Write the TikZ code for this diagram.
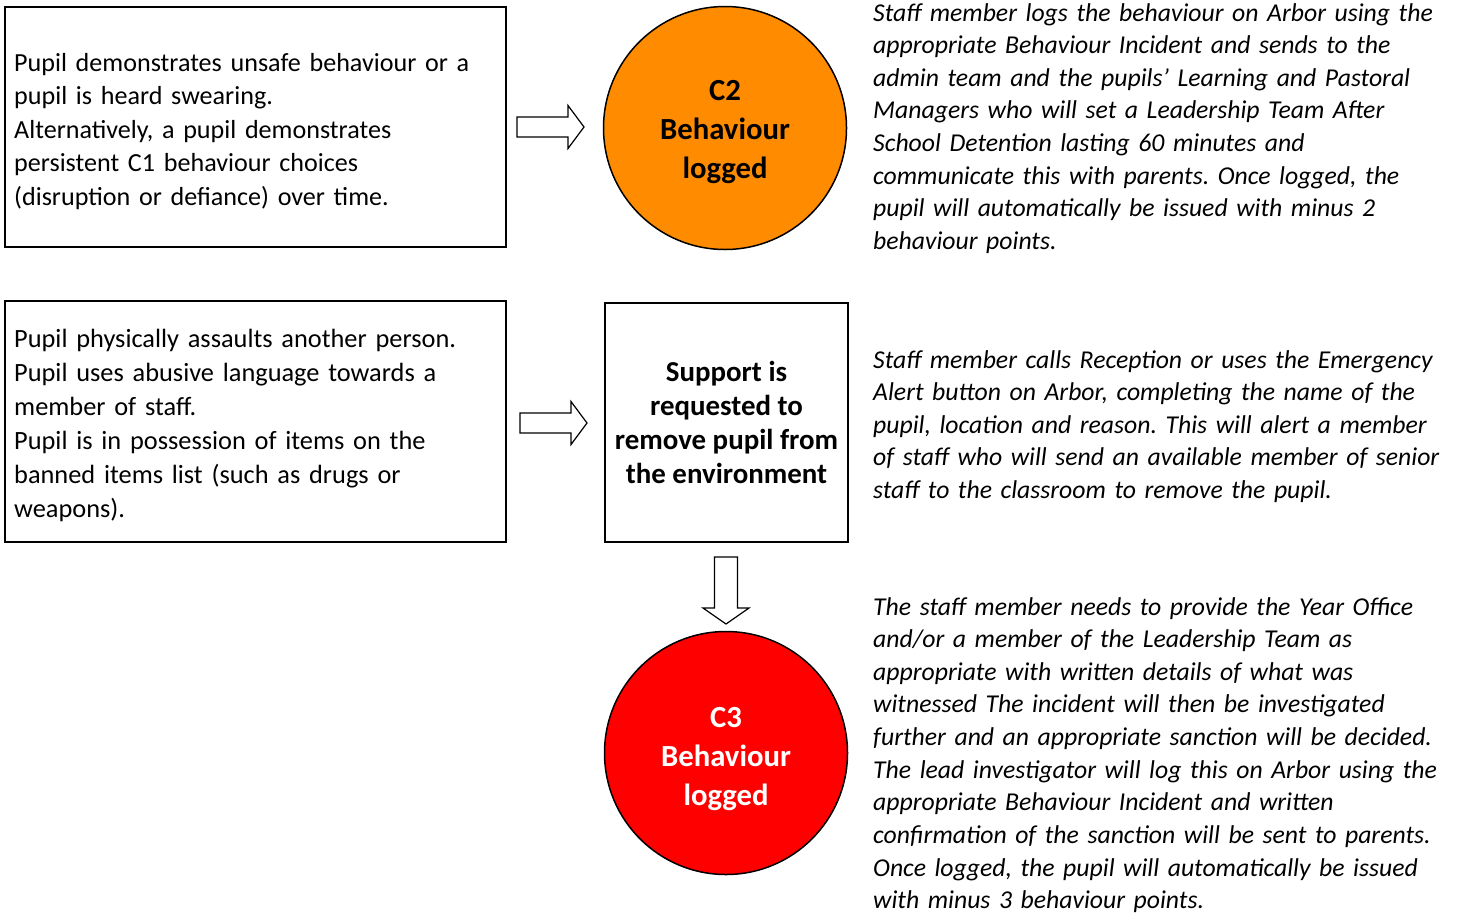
\documentclass[tikz,border=0pt]{standalone}
\usepackage{fontspec}
\setmainfont{Carlito}
\frenchspacing
\definecolor{ctwo}{RGB}{255,140,0}
\definecolor{cthree}{RGB}{255,0,0}
\begin{document}
\begin{tikzpicture}[x=1pt,y=-1pt,
  box/.style={draw, line width=2pt, rectangle, inner sep=0pt},
  lefttext/.style={align=left, text width=490pt, anchor=base west, inner sep=0pt},
  note/.style={font=\fontsize{25.7}{32.65}\selectfont\itshape, align=left, text width=590pt, anchor=base west, inner sep=0pt},
  disc/.style={draw, line width=1.5pt, circle, minimum size=243pt, inner sep=0pt},
  disclabel/.style={align=center, inner sep=0pt, font=\fontsize{30.7}{39}\selectfont\bfseries},
  rarrow/.pic={\draw[line width=1.2pt, fill=white] (0,-10) -- (51,-10) -- (51,-21.5) -- (67,0) -- (51,21.5) -- (51,10) -- (0,10) -- cycle;},
  darrow/.pic={\draw[line width=1.2pt, fill=white] (-11.5,0) -- (11.5,0) -- (11.5,51) -- (23,51) -- (0,67) -- (-23,51) -- (-11.5,51) -- cycle;}]
\useasboundingbox (0,0) rectangle (1458,913);
\fill[white] (0,0) rectangle (1458,913);

% left boxes
\node[box, minimum width=501pt, minimum height=240pt] (box1) at (255.5,127) {};
\node[box, minimum width=501pt, minimum height=241pt] (box2) at (255.5,421.5) {};
\node[lefttext, font=\fontsize{26.1}{33.6}\selectfont] (t1) at (14,71) {Pupil demonstrates unsafe behaviour or a\\
pupil is heard swearing.\\
Alternatively, a pupil demonstrates\\
persistent C1 behaviour choices\\
(disruption or defiance) over time.};
\node[lefttext, font=\fontsize{26.35}{34}\selectfont] (t2) at (14,347) {Pupil physically assaults another person.\\
Pupil uses abusive language towards a\\
member of staff.\\
Pupil is in possession of items on the\\
banned items list (such as drugs or\\
weapons).};

% middle column
\node[disc, fill=ctwo] (c2) at (725,128) {};
\node[disclabel] (c2t) at (725,132) {C2\\Behaviour\\logged};
\node[box, minimum width=243pt, minimum height=239pt, align=center,
  font=\fontsize{28.9}{34.3}\selectfont\bfseries] (box3) at (726.5,422.5)
  {Support is\\requested to\\remove pupil from\\the environment};
\node[disc, fill=cthree] (c3) at (726,753) {};
\node[disclabel, text=white] (c3t) at (726,759) {C3\\Behaviour\\logged};

% block arrows
\pic at (517,127) {rarrow};
\pic at (520,423) {rarrow};
\pic at (726,557) {darrow};

% notes
\node[note] (n1) at (873,21) {Staff member logs the behaviour on Arbor using the\\
appropriate Behaviour Incident and sends to the\\
admin team and the pupils’ Learning and Pastoral\\
Managers who will set a Leadership Team After\\
School Detention lasting 60 minutes and\\
communicate this with parents. Once logged, the\\
pupil will automatically be issued with minus 2\\
behaviour points.};
\node[note] (n2) at (873,368) {Staff member calls Reception or uses the Emergency\\
Alert button on Arbor, completing the name of the\\
pupil, location and reason. This will alert a member\\
of staff who will send an available member of senior\\
staff to the classroom to remove the pupil.};
\node[note] (n3) at (873,615) {The staff member needs to provide the Year Office\\
and/or a member of the Leadership Team as\\
appropriate with written details of what was\\
witnessed The incident will then be investigated\\
further and an appropriate sanction will be decided.\\
The lead investigator will log this on Arbor using the\\
appropriate Behaviour Incident and written\\
confirmation of the sanction will be sent to parents.\\
Once logged, the pupil will automatically be issued\\
with minus 3 behaviour points.};
\end{tikzpicture}
\end{document}
